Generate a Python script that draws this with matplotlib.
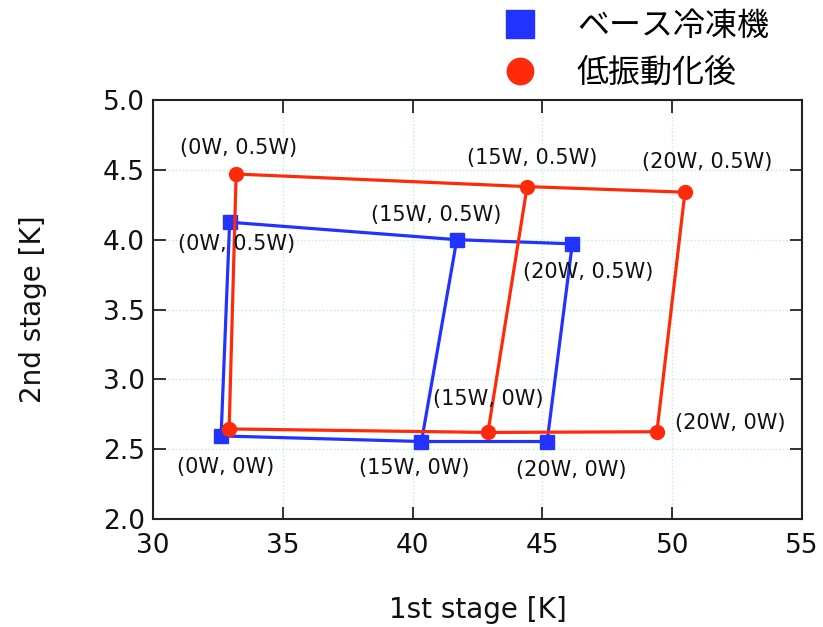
import matplotlib
matplotlib.use("Agg")
import matplotlib.pyplot as plt
from matplotlib.lines import Line2D

plt.rcParams['font.family'] = ['DejaVu Sans', 'Noto Sans CJK JP']

# Data (1st stage K, 2nd stage K) for heat loads
labels = ["(0W, 0W)", "(0W, 0.5W)", "(15W, 0.5W)", "(20W, 0.5W)", "(20W, 0W)", "(15W, 0W)"]
base_x = [32.62, 32.95, 41.70, 46.15, 45.18, 40.34]
base_y = [2.595, 4.125, 4.00, 3.97, 2.555, 2.555]
low_x = [32.93, 33.20, 44.41, 50.49, 49.41, 42.90]
low_y = [2.645, 4.47, 4.38, 4.34, 2.625, 2.62]

series_names = ["ベース冷凍機", "低振動化後"]
blue = "#2233ff"
red = "#ff2a0a"

# label offsets in pixels (dx, dy) relative to each point; None = no label
base_offsets = [(5, -31), (7, -22), (-21, 25), (16, -28), (24, -28), (-7, -26)]
low_offsets = [None, (2, 26), (5, 29), (22, 30), (73, 9), (0, 33)]

fig = plt.figure(figsize=(8.23, 6.27), dpi=100)
ax = fig.add_axes([0.186, 0.1722, 0.7885, 0.6683])

def draw(xs, ys, color, marker, ms, offsets):
    # loop: 0,0 -> 0,0.5 -> 15,0.5 -> 20,0.5 -> 20,0 -> 15,0 -> 0,0
    order = [0, 1, 2, 3, 4, 5, 0]
    ax.plot([xs[i] for i in order], [ys[i] for i in order], color=color, lw=2.3,
            marker=marker, ms=ms, markevery=list(range(6)), zorder=3)
    ax.plot([xs[5], xs[2]], [ys[5], ys[2]], color=color, lw=2.3, zorder=3)
    for i, lab in enumerate(labels):
        if offsets[i] is None:
            continue
        ax.annotate(lab, (xs[i], ys[i]), xytext=offsets[i], textcoords='offset pixels',
                    ha='center', va='center', fontsize=15, color='#111111', zorder=4)

draw(base_x, base_y, blue, 's', 10.5, base_offsets)
draw(low_x, low_y, red, 'o', 10, low_offsets)

ax.set_xlim(30, 55)
ax.set_ylim(2.0, 5.0)
ax.set_xticks([30, 35, 40, 45, 50, 55])
ax.set_yticks([2.0, 2.5, 3.0, 3.5, 4.0, 4.5, 5.0])
ax.set_yticklabels(["2.0", "2.5", "3.0", "3.5", "4.0", "4.5", "5.0"])
ax.tick_params(direction='in', length=9, width=1.2, top=True, right=True,
               labelsize=19, colors='#111111')
ax.tick_params(axis='x', pad=10)
ax.tick_params(axis='y', pad=6)
ax.grid(True, linestyle=':', color='#b8f0dc', linewidth=1)
for s in ax.spines.values():
    s.set_linewidth(1.5)
    s.set_color('#222222')

ax.set_xlabel("1st stage [K]", fontsize=20, labelpad=27, color='#111111')
ax.set_ylabel("2nd stage [K]", fontsize=20, labelpad=40, color='#111111')

handles = [Line2D([], [], color=blue, marker='s', ls='none', ms=20),
           Line2D([], [], color=red, marker='o', ls='none', ms=19)]
fig.legend(handles, series_names, loc='center left', bbox_to_anchor=(0.5966, 0.920),
           frameon=False, fontsize=23, handlelength=1.0, handletextpad=1.29,
           labelspacing=0.48, borderaxespad=0.0)

fig.savefig("out.png", dpi=100)
